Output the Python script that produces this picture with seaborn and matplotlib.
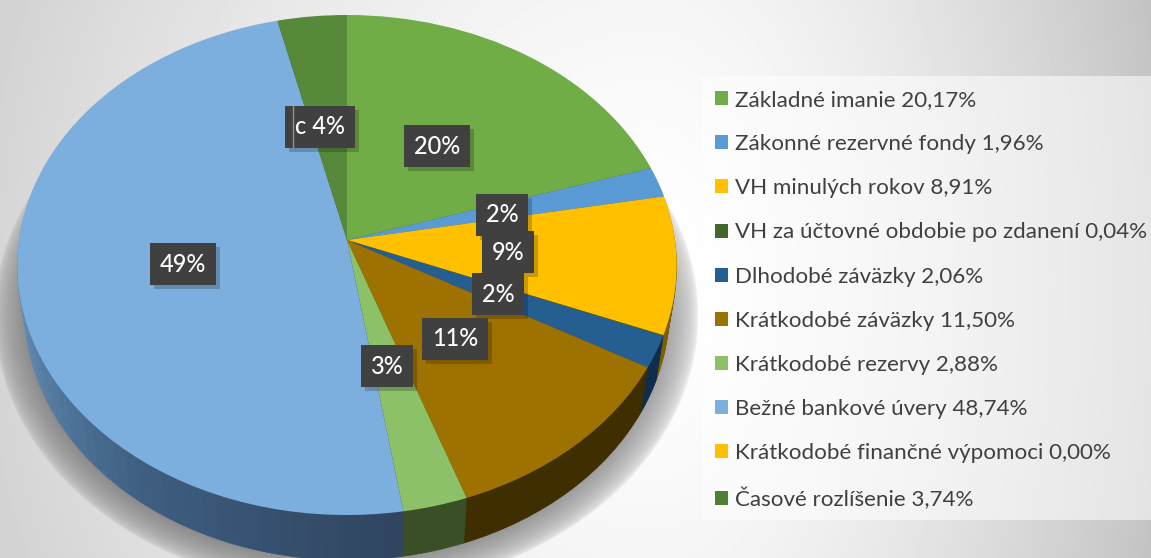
import numpy as np
import matplotlib
matplotlib.use("Agg")
import matplotlib.pyplot as plt
from matplotlib.patches import Rectangle
from matplotlib.transforms import Transform, IdentityTransform
import seaborn as sns

categories = ["Základné imanie", "Zákonné rezervné fondy", "VH minulých rokov",
              "VH za účtovné obdobie po zdanení", "Dlhodobé záväzky", "Krátkodobé záväzky",
              "Krátkodobé rezervy", "Bežné bankové úvery", "Krátkodobé finančné výpomoci",
              "Časové rozlíšenie"]
values = [20.17, 1.96, 8.91, 0.04, 2.06, 11.50, 2.88, 48.74, 0.00, 3.74]
value_labels = ["20,17%", "1,96%", "8,91%", "0,04%", "2,06%", "11,50%", "2,88%", "48,74%", "0,00%", "3,74%"]
top_colors = ["#70AD47", "#5B9BD5", "#FFC000", "#43682B", "#255E91", "#9E7200", "#8CC168", "#7CAFDD", "#FFC000", "#56893A"]
legend_colors = ["#70AD47", "#5B9BD5", "#FFC000", "#43682B", "#255E91", "#997300", "#8CC168", "#7CAFDD", "#FFC000", "#4E7F32"]
side_colors = ["#3c5c26", "#2f5578", "#7d5e00", "#25391a", "#0f2d4d", "#3f2e00", "#3a4f25", "#35506e", "#7d5e00", "#2f4a1e"]
data_labels = ["20%", "2%", "9%", "2%", "11%", "3%", "49%", "c 4%"]
label_x = [437, 502, 508, 498, 455, 387, 183, 320]
label_y = [146, 215, 252, 294, 339, 366, 264, 127]

sns.set_theme(style="white")
plt.rcParams["font.family"] = ["Lato", "DejaVu Sans"]

fig = plt.figure(figsize=(11.51, 5.58), dpi=100)
ax = fig.add_axes([0, 0, 1, 1])


class Persp(Transform):
    """Perspective view of the unit pie, in picture pixels."""
    input_dims = 2
    output_dims = 2
    is_separable = False
    has_inverse = False

    def __init__(self, drop=0.0):
        super().__init__()
        self.drop = drop

    def transform_non_affine(self, v):
        v = np.asarray(v, float)
        X, Y = v[:, 0], v[:, 1]
        d = 1 + 0.1 * Y
        s = 1 - 0.023 * self.drop / 45
        return np.column_stack((347 + s * 328 * X / d, 240 - 247.5 * Y / d + self.drop))


# background
H, W = 558, 1151
yy, xx = np.mgrid[0:H, 0:W]
sx = np.where(xx < 650, 800.0, 500.0)
r = np.hypot((xx - 650) / sx, (yy - 280) / 900)
bg = np.clip(1.0 - 0.22 * r ** 1.5, 0, 1)
ax.imshow(bg, extent=(0, W, H, 0), cmap="gray", vmin=0, vmax=1, zorder=0, aspect="auto")

# soft shadow of the pie
rs = np.hypot((xx - 346) / 320, (yy - 315) / 250)
sh = np.zeros((H, W, 4))
sh[..., 3] = 0.42 * np.clip((1.10 - rs) / 0.14, 0, 1) ** 0.5
ax.imshow(sh, extent=(0, W, H, 0), zorder=0.5, aspect="auto")

# side wall: the big blue slice is shaded along its sweep
n = 70
blue_shades = sns.blend_palette(["#2f4560", "#3f5f82", "#6690b8", "#6690b8", "#6690b8"], n)
wall_vals, wall_cols = [], []
for v, c, name in zip(values, side_colors, categories):
    if name == "Bežné bankové úvery":
        wall_vals += [v / n] * n
        wall_cols += list(blue_shades)
    else:
        wall_vals.append(v)
        wall_cols.append(c)

for drop in np.arange(45, 0, -1.5):
    wedges, _ = ax.pie(wall_vals, colors=wall_cols, startangle=90, counterclock=False, radius=1,
                       normalize=True, wedgeprops=dict(linewidth=0.6))
    tr = Persp(drop) + ax.transData
    for w in wedges:
        w.set_edgecolor(w.get_facecolor())
        w.set_transform(tr)
        w.set_zorder(1)

# top face
wedges, _ = ax.pie(values, colors=top_colors, startangle=90, counterclock=False, radius=1,
                   normalize=True, wedgeprops=dict(linewidth=0))
tr = Persp(0) + ax.transData
for w in wedges:
    w.set_transform(tr)
    w.set_zorder(2)

ax.set_aspect("auto")
ax.set_xlim(0, W)
ax.set_ylim(H, 0)
ax.axis("off")

# data labels
texts = []
for i, (t, x, y) in enumerate(zip(data_labels, label_x, label_y)):
    z = 3 + i * 0.1
    texts.append(ax.text(x, y, t, color="white", fontsize=17, fontweight="medium", ha="center", va="center", zorder=z + 0.01,
                         bbox=dict(boxstyle="square,pad=0.42", fc="#404040", ec="none")))
fig.canvas.draw()
for i, t in enumerate(texts):
    e = t.get_bbox_patch().get_window_extent()
    ax.add_patch(Rectangle((e.x0 + 4, e.y0 - 4), e.width, e.height, transform=IdentityTransform(),
                           fc="black", ec="none", alpha=0.2, zorder=3 + i * 0.1))
ax.plot([293, 293], [106, 147], color="#8a96a0", lw=1, zorder=4)

# legend
ax.add_patch(Rectangle((702, 76), 449, 444, fc="white", ec="none", alpha=0.55, zorder=2.5))
handles = []
for c in legend_colors:
    handles.append(Rectangle((0, 0), 1, 1, fc=c, ec="none"))
labels = [f"{c} {v}" for c, v in zip(categories, value_labels)]
leg = ax.legend(handles, labels, loc="upper left", bbox_to_anchor=(715, 90), bbox_transform=ax.transData,
                frameon=False, fontsize=16.1, labelcolor="#404040", borderpad=0, borderaxespad=0,
                labelspacing=1.08, handlelength=0.58, handleheight=0.58, handletextpad=0.32)
leg.set_zorder(6)

fig.savefig("out.png", dpi=100)
